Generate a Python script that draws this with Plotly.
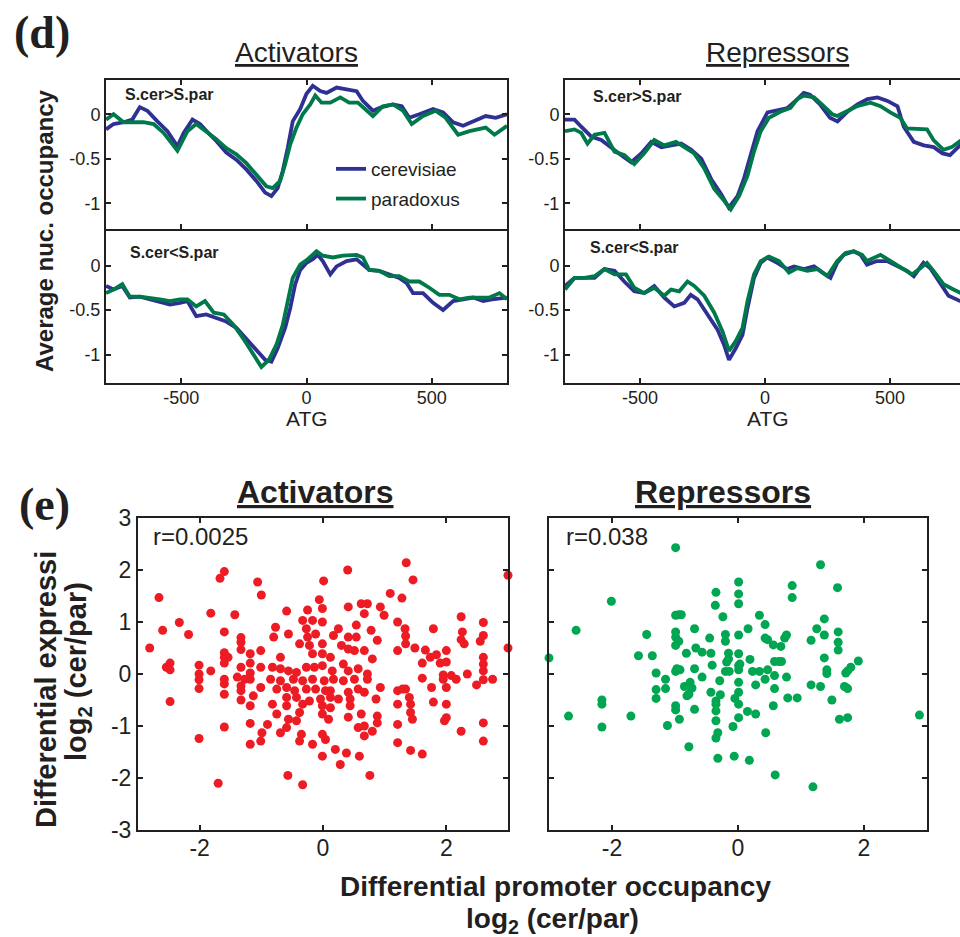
import plotly.graph_objects as go

# ---------------- data: panel (d) average nucleosome occupancy ----------------
# Activators, S.cer>S.par
act_hi_cer_x = [-800,-770,-730,-695,-665,-635,-595,-555,-515,-490,-455,-425,-385,-360,-320,-280,-240,-200,-165,-140,
                -115,-95,-75,-55,-25,0,25,55,80,120,160,200,225,265,300,345,380,410,450,505,545,585,625,665,715,755,800]
act_hi_cer_y = [-0.17,-0.11,-0.09,-0.06,0.08,0.04,-0.08,-0.19,-0.36,-0.21,-0.06,-0.11,-0.23,-0.30,-0.43,-0.51,-0.62,-0.75,-0.88,-0.92,
                -0.83,-0.64,-0.38,-0.08,0.06,0.23,0.32,0.26,0.24,0.30,0.28,0.26,0.15,0.04,0.08,0.11,0.09,-0.04,0.00,0.06,0.02,-0.09,-0.13,-0.08,-0.02,-0.04,0.00]
act_hi_par_x = [-800,-770,-730,-690,-650,-610,-570,-515,-475,-440,-400,-360,-320,-280,-240,-200,-160,-135,-105,-85,
                -65,-40,-15,15,35,60,95,135,170,205,240,265,305,345,385,420,465,515,555,605,650,715,750,800]
act_hi_par_y = [-0.06,0.00,-0.09,-0.09,-0.09,-0.11,-0.21,-0.41,-0.19,-0.11,-0.19,-0.28,-0.38,-0.45,-0.55,-0.68,-0.81,-0.83,-0.75,-0.56,
                -0.34,-0.15,0.00,0.11,0.21,0.13,0.13,0.19,0.13,0.13,0.04,-0.02,0.09,0.11,0.04,-0.11,-0.02,0.04,-0.04,-0.23,-0.19,-0.15,-0.23,-0.13]
# Activators, S.cer<S.par
act_lo_cer_x = [-800,-770,-735,-705,-665,-625,-585,-545,-505,-475,-440,-400,-360,-320,-280,-240,-200,-165,-140,-115,
                -85,-65,-45,-25,0,25,45,65,95,120,160,200,225,250,290,330,370,400,425,465,505,545,585,625,665,705,740,800]
act_lo_cer_y = [-0.23,-0.27,-0.23,-0.36,-0.35,-0.38,-0.40,-0.44,-0.42,-0.40,-0.57,-0.55,-0.59,-0.63,-0.70,-0.82,-0.95,-1.06,-1.08,-0.93,
                -0.70,-0.48,-0.21,-0.05,0.03,0.07,0.12,0.05,-0.10,-0.01,0.05,0.07,0.01,-0.05,-0.06,-0.10,-0.14,-0.20,-0.31,-0.31,
                -0.42,-0.50,-0.40,-0.38,-0.36,-0.40,-0.38,-0.36]
act_lo_par_x = [-800,-770,-735,-705,-665,-625,-585,-545,-505,-475,-440,-405,-370,-330,-290,-250,-210,-180,-150,-120,
                -95,-75,-55,-25,5,40,65,105,145,200,225,250,290,330,370,410,450,490,530,570,610,650,690,730,770,800]
act_lo_par_y = [-0.31,-0.27,-0.21,-0.35,-0.35,-0.36,-0.38,-0.40,-0.38,-0.38,-0.46,-0.40,-0.53,-0.55,-0.67,-0.83,-1.00,-1.14,-1.06,-0.89,
                -0.67,-0.40,-0.14,0.01,0.07,0.16,0.11,0.09,0.11,0.12,0.09,-0.05,-0.06,-0.12,-0.12,-0.18,-0.18,-0.25,-0.33,-0.33,
                -0.38,-0.36,-0.36,-0.36,-0.31,-0.38]
# Repressors, S.cer>S.par
rep_hi_cer_x = [-800,-762,-735,-695,-655,-615,-575,-535,-495,-455,-415,-375,-335,-295,-255,-215,-175,-145,-110,-85,
                -55,-30,10,50,90,130,155,180,220,260,290,330,370,410,450,490,530,555,595,635,675,710,740,780,800]
rep_hi_cer_y = [-0.06,-0.06,-0.14,-0.25,-0.29,-0.38,-0.46,-0.54,-0.44,-0.31,-0.37,-0.35,-0.33,-0.40,-0.50,-0.73,-0.90,-1.05,-0.92,-0.73,
                -0.42,-0.19,0.02,0.05,0.07,0.17,0.24,0.22,0.11,-0.04,-0.08,0.03,0.11,0.17,0.19,0.15,0.09,-0.14,-0.31,-0.35,
                -0.37,-0.44,-0.46,-0.35,-0.30]
rep_hi_par_x = [-800,-762,-735,-710,-682,-642,-602,-562,-523,-483,-443,-403,-356,-317,-283,-243,-203,-164,-137,-104,
                -70,-44,-17,16,63,102,129,156,196,235,269,289,329,368,422,462,501,541,568,608,648,674,714,747,781,800]
rep_hi_par_y = [-0.19,-0.17,-0.21,-0.33,-0.23,-0.21,-0.42,-0.46,-0.56,-0.44,-0.29,-0.35,-0.31,-0.38,-0.44,-0.61,-0.84,-0.97,-1.07,-0.92,
                -0.69,-0.42,-0.19,-0.04,0.03,0.07,0.17,0.21,0.19,0.09,0.00,-0.02,0.03,0.09,0.13,0.09,0.02,-0.04,-0.16,-0.17,
                -0.17,-0.29,-0.40,-0.37,-0.29,-0.26]
# Repressors, S.cer<S.par
rep_lo_cer_x = [-800,-762,-722,-682,-642,-602,-563,-523,-483,-443,-403,-363,-323,-297,-270,-230,-190,-164,-144,-117,
                -90,-70,-44,-17,9,49,89,116,156,196,222,262,289,315,355,382,408,448,488,528,568,595,634,661,701,734,781,800]
rep_lo_cer_y = [-0.23,-0.14,-0.14,-0.14,-0.04,-0.06,-0.18,-0.29,-0.31,-0.23,-0.36,-0.46,-0.42,-0.33,-0.38,-0.55,-0.72,-0.89,-1.06,-0.93,
                -0.78,-0.48,-0.14,0.03,0.09,0.03,-0.04,-0.01,-0.04,-0.01,-0.06,-0.14,0.03,0.12,0.16,0.12,0.01,0.05,0.05,-0.01,
                -0.06,-0.12,0.03,-0.03,-0.19,-0.34,-0.40,-0.42]
rep_lo_par_x = [-800,-762,-722,-682,-642,-602,-556,-523,-483,-443,-403,-376,-343,-310,-283,-243,-203,-170,-144,-117,
                -90,-70,-44,-17,16,56,96,129,169,209,249,289,322,355,388,408,462,501,541,588,621,648,674,714,754,781,800]
rep_lo_par_y = [-0.27,-0.14,-0.14,-0.12,-0.04,-0.10,-0.10,-0.25,-0.31,-0.25,-0.34,-0.27,-0.29,-0.18,-0.23,-0.34,-0.53,-0.74,-0.96,-0.85,
                -0.70,-0.40,-0.10,0.05,0.10,0.05,-0.08,-0.03,-0.06,-0.04,-0.12,0.05,0.14,0.16,0.12,0.05,0.12,0.05,-0.01,-0.10,
                -0.03,0.03,-0.06,-0.21,-0.27,-0.31,-0.33]

d_xtick_vals = [-500, 0, 500]
d_xtick_text = ["-500", "0", "500"]
d_ytick_vals = [-1, -0.5, 0]
d_ytick_text = ["-1", "-0.5", "0"]

# ---------------- data: panel (e) scatter ----------------
act_x = [-2.81,-2.66,-2.60,-2.54,-2.48,-2.48,-2.48,-2.33,-2.18,-2.01,
         -2.01,-2.01,-2.01,-2.01,-1.82,-1.82,-1.70,-1.67,-1.60,-1.60,
         -1.60,-1.60,-1.60,-1.60,-1.60,-1.60,-1.60,-1.54,-1.43,-1.39,
         -1.33,-1.33,-1.33,-1.33,-1.33,-1.33,-1.33,-1.27,-1.18,-1.18,
         -1.18,-1.18,-1.18,-1.18,-1.18,-1.13,-1.06,-1.00,-0.99,
         -0.06,-0.59,-0.25,-0.01,0.41,0.62,0.72,0.67,0.93,0.99,
         -0.33,-0.17,-0.01,-0.77,-0.56,-0.80,-0.27,-0.25,-0.12,0.25,
         0.17,0.54,0.41,0.54,0.78,0.88,1.21,-1.01,-0.69,-0.38,
         -0.22,-0.17,-0.01,-0.01,0.12,0.30,0.41,0.51,0.67,0.80,
         1.21,-1.01,-0.82,-0.69,-0.56,-0.43,-0.27,-0.14,-0.01,0.15,
         0.33,0.41,0.57,0.72,-0.85,-0.69,-0.48,-0.33,-0.17,0.02,
         0.17,0.33,0.51,0.72,-1.01,-0.75,-0.59,-0.46,-0.27,-0.12,
         0.04,0.12,0.41,0.57,0.67,0.93,1.21,-0.59,-0.43,-0.22,
         -0.04,0.12,0.25,0.44,0.86,-0.82,-0.59,-0.33,-0.01,0.12,
         0.44,1.21,-0.75,-0.38,-0.01,0.09,0.41,0.62,0.88,-0.56,
         -0.43,-0.90,-0.59,0.57,0.67,0.88,1.21,-0.69,-0.35,-0.01,
         0.04,0.67,0.80,-0.17,-0.38,-1.01,0.20,0.38,-0.01,0.59,
         0.01,0.40,-0.57,-0.33,0.76,0.28,1.09,1.21,1.28,1.29,
         1.35,1.46,1.33,1.34,1.34,1.40,1.42,1.42,1.45,1.42,
         1.49,1.34,1.61,1.61,1.66,1.74,1.76,1.79,1.79,1.61,
         1.84,1.90,1.95,1.95,2.00,2.00,2.00,2.00,2.00,1.97,
         2.08,2.16,2.24,2.26,2.24,2.34,2.24,2.29,2.49,2.60,
         2.60,2.55,2.60,2.60,2.60,2.60,2.60,2.60,2.75,3.00,
         3.00]
act_y = [0.50,1.47,0.84,0.13,0.21,0.08,-0.53,0.99,0.76,0.17,
         0.00,-0.11,-0.28,-1.24,1.17,0.06,-2.10,1.84,1.97,0.81,
         0.41,0.32,0.21,-0.10,-0.19,-0.39,-1.02,0.32,1.14,-0.06,
         0.70,0.61,0.47,0.13,-0.23,-0.32,-0.50,-0.10,0.39,0.21,
         0.02,-0.10,-0.61,-0.95,-1.35,-0.42,1.77,1.52,-1.13,
         1.43,1.21,1.23,1.26,1.29,1.35,1.35,1.16,1.29,1.13,
         1.03,1.03,1.00,0.90,0.77,0.71,0.87,0.71,0.77,0.87,
         0.74,0.94,0.71,0.71,0.84,0.65,1.00,0.45,0.32,0.58,
         0.55,0.39,0.58,0.39,0.32,0.55,0.48,0.45,0.45,0.29,
         0.45,0.13,0.13,0.10,0.06,0.03,0.13,0.13,0.16,0.06,
         0.19,0.06,0.10,0.00,-0.10,-0.13,-0.10,-0.13,-0.10,-0.13,
         -0.10,-0.13,-0.10,-0.10,-0.26,-0.29,-0.26,-0.32,-0.29,-0.29,
         -0.32,-0.32,-0.35,-0.29,-0.35,-0.26,-0.32,-0.45,-0.45,-0.52,
         -0.48,-0.45,-0.48,-0.48,-0.48,-0.58,-0.61,-0.58,-0.61,-0.65,
         -0.61,-0.58,-0.77,-0.74,-0.77,-0.87,-0.83,-0.77,-0.81,-0.87,
         -0.90,-0.97,-1.03,-1.03,-1.00,-0.94,-0.97,-1.13,-1.16,-1.16,
         -1.26,-1.19,-1.10,-1.35,-1.29,-1.29,-1.45,-1.52,-1.58,-1.58,
         1.79,2.00,-1.95,-2.13,-1.95,-1.74,1.55,-1.32,1.46,-0.29,
         2.14,1.81,0.87,0.73,0.58,-0.45,-0.58,-0.74,-0.87,-1.47,
         0.50,-0.29,0.21,-0.08,0.46,0.32,-0.26,0.87,-0.54,-1.54,
         0.37,0.21,-0.02,-0.10,0.45,0.23,-0.26,-0.58,-0.84,-0.90,
         -0.03,-0.10,1.10,0.81,0.66,0.00,-1.10,0.58,-0.21,0.99,
         0.74,0.63,0.32,0.19,0.06,-0.11,-0.94,-1.29,-0.10,1.90,
         0.50]

rep_x = [-3.00,-2.69,-2.57,-2.16,-2.16,-2.16,-2.01,-1.70,-1.58,-1.45,
         -1.36,-1.30,-1.30,-1.30,-1.15,-1.15,-1.12,-0.99,-0.99,-0.94,
         -0.90,-0.99,-0.99,-0.99,-0.94,-0.99,-0.97,-0.92,-0.99,-0.99,
         -0.93,-0.82,-0.85,-0.81,-0.78,-0.76,-0.73,-0.78,-0.69,-0.69,
         -0.69,-0.67,-0.57,-0.57,-0.45,-0.43,-0.41,-0.43,-0.35,-0.36,
         -0.35,-0.35,-0.35,-0.35,-0.32,-0.35,-0.32,-0.28,-0.29,-0.24,
         -0.20,-0.20,-0.20,-0.18,-0.15,-0.15,-0.14,-0.08,-0.06,-0.05,
         0.01,0.01,0.01,0.01,0.01,0.01,0.01,0.01,0.01,0.01,
         0.01,0.03,0.16,0.15,0.19,0.23,0.28,0.28,0.34,0.34,
         0.43,0.43,0.47,0.43,0.47,0.56,0.58,0.58,0.58,0.56,
         0.65,0.68,0.69,0.74,0.77,0.77,0.79,0.86,0.86,0.94,
         0.59,0.44,0.18,1.16,1.16,1.19,1.25,1.31,1.31,1.37,
         1.37,1.37,1.41,1.41,1.49,1.58,1.59,1.59,1.59,1.61,
         1.69,1.71,1.74,1.74,1.74,1.79,1.91,2.88]
rep_y = [0.31,-0.81,0.84,-0.50,-0.58,-1.02,1.40,-0.81,0.35,0.76,
         0.35,0.02,-0.30,-0.47,-0.10,-0.28,-0.99,2.43,1.13,1.14,
         1.14,0.81,0.71,0.55,0.63,0.05,0.10,0.08,-0.61,-0.69,
         -0.87,0.40,-0.24,-0.42,-0.39,-0.16,-0.27,-1.40,0.87,0.10,
         -0.68,0.50,0.42,-0.06,0.69,0.40,0.17,-0.35,1.57,1.32,
         -0.52,-0.58,-0.71,-0.90,-1.13,-1.23,-1.62,-0.40,-0.13,1.10,
         0.76,0.63,0.05,0.23,0.40,0.29,0.05,-1.01,-1.58,-0.47,
         1.77,1.54,1.35,0.75,0.39,0.16,0.08,-0.16,-0.35,-0.58,
         -0.84,0.19,0.87,-0.72,0.28,0.05,-0.21,-0.77,1.13,0.05,
         0.95,0.69,0.08,-0.10,0.66,0.56,0.24,-0.03,-0.28,-0.61,
         0.24,0.53,0.24,0.69,0.75,-0.06,-0.46,1.70,1.47,-0.46,
         -1.94,-1.13,-1.66,0.65,-0.21,-2.17,0.87,2.10,-0.24,1.06,
         0.75,0.31,0.08,0.01,-0.50,1.66,0.81,0.61,0.46,-0.87,
         -0.24,0.02,0.06,-0.28,-0.84,0.13,0.25,-0.79]

e_xtick_vals = [-2, 0, 2]
e_xtick_text = ["-2", "0", "2"]
e_ytick_vals = [-3, -2, -1, 0, 1, 2, 3]
e_ytick_text = ["-3", "-2", "-1", "0", "1", "2", "3"]

# ---------------- styling ----------------
FONT = "Liberation Sans, Arial, Helvetica, sans-serif"
SERIF = "Liberation Serif, Times New Roman, serif"
INK = "#231f20"
BLUE = "#2e3192"
DKGREEN = "#00794a"
RED = "#ed1c24"
GREEN = "#00a651"
W, H = 960, 937


def fx(px):
    return px / W


def fy(py):
    return 1 - py / H


fig = go.Figure()

panels = [
    ("x", "y", act_hi_cer_x, act_hi_cer_y, act_hi_par_x, act_hi_par_y, True),
    ("x2", "y2", act_lo_cer_x, act_lo_cer_y, act_lo_par_x, act_lo_par_y, False),
    ("x3", "y3", rep_hi_cer_x, rep_hi_cer_y, rep_hi_par_x, rep_hi_par_y, False),
    ("x4", "y4", rep_lo_cer_x, rep_lo_cer_y, rep_lo_par_x, rep_lo_par_y, False),
]
for xa, ya, cx, cy, px_, py_, leg in panels:
    fig.add_trace(go.Scatter(x=cx, y=cy, mode="lines", xaxis=xa, yaxis=ya,
                             line=dict(color=BLUE, width=3.8), name="cerevisiae",
                             legendgroup="cer", showlegend=leg))
    fig.add_trace(go.Scatter(x=px_, y=py_, mode="lines", xaxis=xa, yaxis=ya,
                             line=dict(color=DKGREEN, width=3.8), name="paradoxus",
                             legendgroup="par", showlegend=leg))

fig.add_trace(go.Scatter(x=act_x, y=act_y, mode="markers", xaxis="x5", yaxis="y5",
                         marker=dict(color=RED, size=9), cliponaxis=False, showlegend=False))
fig.add_trace(go.Scatter(x=rep_x, y=rep_y, mode="markers", xaxis="x6", yaxis="y6",
                         marker=dict(color=GREEN, size=9), cliponaxis=False, showlegend=False))

base = dict(showline=True, linecolor=INK, linewidth=2, ticks="inside", ticklen=5,
            tickwidth=1.5, tickcolor=INK, showgrid=False, zeroline=False, automargin=False)
dfont = dict(family=FONT, size=18, color=INK)
efont = dict(family=FONT, size=23, color=INK)

dx_left = [fx(106), fx(507)]
dx_right = [fx(565), 1.0]
dy_top = [fy(229), fy(80)]
dy_bot = [fy(383), fy(229)]

layout_axes = dict(
    xaxis=dict(base, domain=dx_left, range=[-800, 800], anchor="y", mirror="ticks",
               tickvals=d_xtick_vals, showticklabels=False),
    yaxis=dict(base, domain=dy_top, range=[-1.29, 0.385], anchor="x", mirror="ticks",
               tickvals=d_ytick_vals, ticktext=d_ytick_text, tickfont=dfont),
    xaxis2=dict(base, domain=dx_left, range=[-800, 800], anchor="y2", mirror=False,
                tickvals=d_xtick_vals, ticktext=d_xtick_text, tickfont=dfont,
                ticklabelstandoff=-3),
    yaxis2=dict(base, domain=dy_bot, range=[-1.32, 0.41], anchor="x2", mirror="ticks",
                tickvals=d_ytick_vals, ticktext=d_ytick_text, tickfont=dfont),
    xaxis3=dict(base, domain=dx_right, range=[-800, 780], anchor="y3", mirror="ticks",
                tickvals=d_xtick_vals, showticklabels=False),
    yaxis3=dict(base, domain=dy_top, range=[-1.29, 0.385], anchor="x3", mirror=False,
                tickvals=d_ytick_vals, ticktext=d_ytick_text, tickfont=dfont),
    xaxis4=dict(base, domain=dx_right, range=[-800, 780], anchor="y4", mirror=False,
                tickvals=d_xtick_vals, ticktext=d_xtick_text, tickfont=dfont,
                ticklabelstandoff=-3),
    yaxis4=dict(base, domain=dy_bot, range=[-1.32, 0.41], anchor="x4", mirror=False,
                tickvals=d_ytick_vals, ticktext=d_ytick_text, tickfont=dfont),
    xaxis5=dict(base, domain=[fx(138), fx(508)], range=[-3, 3], anchor="y5", mirror="ticks",
                tickvals=e_xtick_vals, ticktext=e_xtick_text, tickfont=efont,
                ticklabelstandoff=-4),
    yaxis5=dict(base, domain=[fy(830), fy(518)], range=[-3, 3], anchor="x5", mirror="ticks",
                tickvals=e_ytick_vals, ticktext=e_ytick_text, tickfont=efont),
    xaxis6=dict(base, domain=[fx(549), fx(927)], range=[-3, 3], anchor="y6", mirror="ticks",
                tickvals=e_xtick_vals, ticktext=e_xtick_text, tickfont=efont,
                ticklabelstandoff=-4),
    yaxis6=dict(base, domain=[fy(830), fy(518)], range=[-3, 3], anchor="x6", mirror="ticks",
                tickvals=e_ytick_vals, showticklabels=False),
)


def ann(text, px, py, size, bold=False, family=FONT, angle=0, xanchor="center"):
    t = f"<b>{text}</b>" if bold else text
    return dict(text=t, x=fx(px), y=fy(py), xref="paper", yref="paper", showarrow=False,
                xanchor=xanchor, yanchor="middle", textangle=angle,
                font=dict(family=family, size=size, color=INK))


annotations = [
    ann("(d)", 42, 32, 46, bold=True, family=SERIF),
    ann("(e)", 44, 504, 46, bold=True, family=SERIF),
    ann("<u>Activators</u>", 296, 52, 28),
    ann("<u>Repressors</u>", 777, 52, 28),
    ann("ATG", 307, 418, 21),
    ann("ATG", 768, 418, 21),
    ann("Average nuc. occupancy", 45, 231, 24, bold=True, angle=-90),
    ann("S.cer&gt;S.par", 169, 95, 16, bold=True),
    ann("S.cer&lt;S.par", 174, 252, 16, bold=True),
    ann("S.cer&gt;S.par", 637, 96, 16, bold=True),
    ann("S.cer&lt;S.par", 634, 247, 16, bold=True),
    ann("<u>Activators</u>", 315, 492, 32, bold=True),
    ann("<u>Repressors</u>", 723, 492, 32, bold=True),
    ann("r=0.0025", 151, 536, 24, xanchor="left"),
    ann("r=0.038", 564, 536, 24, xanchor="left"),
    ann("Differential expressi", 46, 690, 29, bold=True, angle=-90),
    ann("log<sub>2</sub> (cer/par)", 78, 672, 29, bold=True, angle=-90),
    ann("Differential promoter occupancy", 555, 886, 28, bold=True),
    ann("log<sub>2</sub> (cer/par)", 552, 920, 28, bold=True),
]

fig.update_layout(
    template="none",
    width=W, height=H, margin=dict(l=0, r=0, t=0, b=0, pad=0, autoexpand=False),
    paper_bgcolor="white", plot_bgcolor="white",
    showlegend=True,
    legend=dict(x=fx(331), y=fy(150), xanchor="left", yanchor="top",
                bgcolor="rgba(0,0,0,0)", borderwidth=0,
                font=dict(family=FONT, size=19, color=INK),
                traceorder="grouped", tracegroupgap=2),
    annotations=annotations,
    **layout_axes,
)

fig.write_html("out.html")
